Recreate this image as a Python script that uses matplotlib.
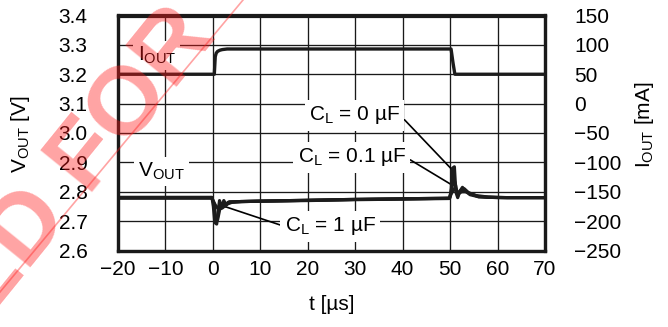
import matplotlib
matplotlib.use("Agg")
import matplotlib.pyplot as plt
from matplotlib.lines import Line2D

plt.rcParams['font.family'] = ['Liberation Sans', 'DejaVu Sans']
plt.rcParams['mathtext.fontset'] = 'custom'
plt.rcParams['mathtext.rm'] = 'Liberation Sans'
plt.rcParams['mathtext.it'] = 'Liberation Sans:italic'
plt.rcParams['mathtext.bf'] = 'Liberation Sans:bold'
plt.rcParams['axes.unicode_minus'] = True

# ---------------- data ----------------
x_ticks = [-20, -10, 0, 10, 20, 30, 40, 50, 60, 70]
v_ticks = [2.6, 2.7, 2.8, 2.9, 3.0, 3.1, 3.2, 3.3, 3.4]
i_ticks = [-250, -200, -150, -100, -50, 0, 50, 100, 150]

# VOUT, CL = 0 uF
t_c0 = [-20, -0.2, 0.1, 0.4, 0.8, 1.1, 1.4, 1.8, 2.3, 2.8, 3.5, 5, 10, 20, 30, 40,
        49.9, 50.2, 50.5, 50.9, 51.2, 51.6, 52.0, 52.6, 53.4, 54.2, 56, 58, 62, 70]
v_c0 = [2.781, 2.781, 2.75, 2.695, 2.69, 2.73, 2.77, 2.745, 2.77, 2.755, 2.766,
        2.766, 2.768, 2.771, 2.774, 2.776, 2.778, 2.80, 2.88, 2.885, 2.80, 2.78, 2.80,
        2.815, 2.80, 2.79, 2.783, 2.781, 2.78, 2.78]
# VOUT, CL = 0.1 uF
t_c01 = [-20, -0.2, 0.2, 0.6, 1.0, 1.5, 2.0, 2.5, 3.2, 5, 10, 20, 30, 40,
         49.9, 50.3, 50.8, 51.2, 51.6, 52.2, 53.0, 54.0, 56, 60, 70]
v_c01 = [2.780, 2.780, 2.76, 2.71, 2.705, 2.745, 2.76, 2.75, 2.764, 2.766, 2.768,
         2.771, 2.774, 2.776, 2.778, 2.81, 2.845, 2.82, 2.785, 2.805, 2.81, 2.795,
         2.783, 2.780, 2.780]
# VOUT, CL = 1 uF
t_c1 = [-20, -0.2, 0.5, 1.2, 2.0, 3.0, 4.0, 6, 10, 20, 30, 40,
        49.8, 50.3, 50.8, 51.3, 51.8, 52.5, 53.3, 54.2, 55.5, 58, 62, 70]
v_c1 = [2.778, 2.778, 2.755, 2.74, 2.745, 2.758, 2.764, 2.767, 2.768, 2.770, 2.773,
        2.775, 2.777, 2.795, 2.81, 2.805, 2.795, 2.80, 2.80, 2.795, 2.787, 2.782, 2.78, 2.78]
# IOUT [mA]
t_iout = [-20, 0.3, 0.5, 0.7, 1.0, 1.5, 2.0, 3.0, 5, 50.2, 50.6, 51.0, 70]
i_iout = [50, 50, 80, 86, 89, 91, 92, 93, 93, 93, 70, 50, 50]

# ---------------- figure ----------------
W, H = 668, 327
fig = plt.figure(figsize=(W / 100, H / 100), dpi=100)
L, R, T, B = 118, 545, 15.5, 250.5
ax = fig.add_axes([L / W, 1 - B / H, (R - L) / W, (B - T) / H])
ax2 = ax.twinx()

ax.set_xlim(-20, 70)
ax.set_ylim(2.6, 3.4)
ax2.set_ylim(-250, 150)
ax.set_xticks(x_ticks)
ax.set_yticks(v_ticks)
ax2.set_yticks(i_ticks)
ax.set_xticklabels([str(v).replace('-', '\u2212') for v in x_ticks])
ax.set_yticklabels([f'{v:.1f}' for v in v_ticks])
ax2.set_yticklabels([str(v).replace('-', '\u2212') for v in i_ticks])

ax.grid(True, color='#1a1a1a', linewidth=0.95)
ax.set_axisbelow(True)
ax.tick_params(axis='both', length=0, labelsize=15, colors='black')
ax.tick_params(axis='y', pad=22)
ax.tick_params(axis='x', pad=7)
ax2.tick_params(axis='y', length=0, labelsize=15, pad=21)
for a in (ax, ax2):
    for s in a.spines.values():
        s.set_linewidth(2.3)
        s.set_color('#1a1a1a')

lc = '#1c1c1c'
ax.plot(t_c1, v_c1, color=lc, lw=2.3, zorder=3)
ax.plot(t_c01, v_c01, color=lc, lw=2.3, zorder=3)
ax.plot(t_c0, v_c0, color=lc, lw=2.3, zorder=3)
ax2.plot(t_iout, i_iout, color=lc, lw=2.4, zorder=3)

bb = dict(facecolor='white', edgecolor='none', pad=3)
ax.text(-11.8, 3.264, r'I$_{\mathrm{OUT}}$', fontsize=15, ha='center', va='center', bbox=bb, zorder=2.5)
ax.text(-10.9, 2.869, r'V$_{\mathrm{OUT}}$', fontsize=15, ha='center', va='center', bbox=bb, zorder=2.5)

arrow = dict(arrowstyle='-', color='black', lw=1.2, shrinkA=0, shrinkB=0)
ax.annotate(r'C$_{\mathrm{L}}$ = 0 µF', xy=(50.6, 2.872), xytext=(29.9, 3.06), fontsize=15,
            ha='center', va='center', bbox=bb, zorder=2.5,
            arrowprops=dict(arrow, relpos=(1.0, 0.5)))
ax.annotate(r'C$_{\mathrm{L}}$ = 0.1 µF', xy=(50.6, 2.821), xytext=(29.3, 2.917), fontsize=15,
            ha='center', va='center', bbox=bb, zorder=2.5,
            arrowprops=dict(arrow, relpos=(1.0, 0.5)))
ax.annotate(r'C$_{\mathrm{L}}$ = 1 µF', xy=(1.9, 2.753), xytext=(24.7, 2.682), fontsize=15,
            ha='center', va='center', bbox=bb, zorder=2.5,
            arrowprops=dict(arrow, relpos=(0.0, 0.5)))

fig.text(20 / W, 1 - 134 / H, r'V$_{\mathrm{OUT}}$ [V]', rotation=90, fontsize=15,
         ha='center', va='center')
fig.text(644 / W, 1 - 125 / H, r'I$_{\mathrm{OUT}}$ [mA]', rotation=90, fontsize=15,
         ha='center', va='center')
fig.text(332 / W, 1 - 305 / H, 't [µs]', fontsize=15, ha='center', va='center')

# watermark (red diagonal stamp)
wm_color = (1.0, 0.1, 0.1, 0.4)
fig.add_artist(Line2D([243 / W, 0], [1, 1 - 292 / H], color=wm_color, lw=1.2,
                      transform=fig.transFigure))
fig.text(-14 / W, 1 - 322 / H, 'ED FOR', rotation=51, rotation_mode='anchor', fontsize=70,
         fontweight='bold', color=wm_color, ha='left', va='baseline', zorder=10)

fig.savefig('out.png', dpi=100)
